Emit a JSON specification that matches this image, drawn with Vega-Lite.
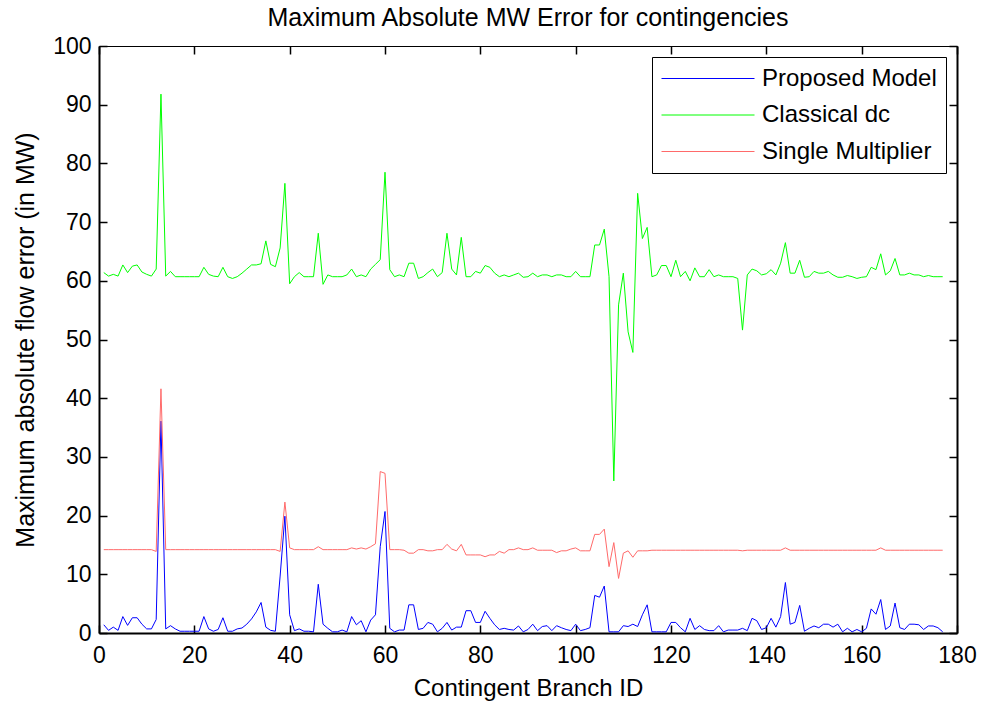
{
"$schema": "https://vega.github.io/schema/vega-lite/v6.json",
"width": 858, "height": 587,
"autosize": {"type": "none"},
"padding": {"left": 99, "top": 46, "right": 26, "bottom": 71},
"background": "white",
"title": {"text": "Maximum Absolute MW Error for contingencies", "fontSize": 25, "font": "Liberation Sans", "fontWeight": "normal", "color": "black", "offset": 4, "anchor": "middle"},
"data": {"values": [
{"x":1,"Proposed Model":1.4,"Classical dc":61.4,"Single Multiplier":14.2},
{"x":2,"Proposed Model":0.45,"Classical dc":60.8,"Single Multiplier":14.2},
{"x":3,"Proposed Model":1.0,"Classical dc":61.1,"Single Multiplier":14.2},
{"x":4,"Proposed Model":0.45,"Classical dc":60.8,"Single Multiplier":14.2},
{"x":5,"Proposed Model":2.8,"Classical dc":62.7,"Single Multiplier":14.2},
{"x":6,"Proposed Model":1.3,"Classical dc":61.4,"Single Multiplier":14.2},
{"x":7,"Proposed Model":2.6,"Classical dc":62.5,"Single Multiplier":14.2},
{"x":8,"Proposed Model":2.6,"Classical dc":62.7,"Single Multiplier":14.2},
{"x":9,"Proposed Model":1.5,"Classical dc":61.5,"Single Multiplier":14.2},
{"x":10,"Proposed Model":0.7,"Classical dc":61.1,"Single Multiplier":14.2},
{"x":11,"Proposed Model":0.7,"Classical dc":60.8,"Single Multiplier":14.2},
{"x":12,"Proposed Model":2.3,"Classical dc":62.0,"Single Multiplier":13.9},
{"x":13,"Proposed Model":36.1,"Classical dc":91.8,"Single Multiplier":41.6},
{"x":14,"Proposed Model":0.7,"Classical dc":60.8,"Single Multiplier":14.2},
{"x":15,"Proposed Model":1.25,"Classical dc":61.6,"Single Multiplier":14.2},
{"x":16,"Proposed Model":0.7,"Classical dc":60.7,"Single Multiplier":14.2},
{"x":17,"Proposed Model":0.3,"Classical dc":60.7,"Single Multiplier":14.2},
{"x":18,"Proposed Model":0.3,"Classical dc":60.7,"Single Multiplier":14.2},
{"x":19,"Proposed Model":0.3,"Classical dc":60.7,"Single Multiplier":14.2},
{"x":20,"Proposed Model":0.3,"Classical dc":60.7,"Single Multiplier":14.2},
{"x":21,"Proposed Model":0.3,"Classical dc":60.7,"Single Multiplier":14.2},
{"x":22,"Proposed Model":2.8,"Classical dc":62.3,"Single Multiplier":14.2},
{"x":23,"Proposed Model":0.7,"Classical dc":61.1,"Single Multiplier":14.2},
{"x":24,"Proposed Model":0.3,"Classical dc":60.8,"Single Multiplier":14.2},
{"x":25,"Proposed Model":0.6,"Classical dc":60.7,"Single Multiplier":14.2},
{"x":26,"Proposed Model":2.6,"Classical dc":62.3,"Single Multiplier":14.2},
{"x":27,"Proposed Model":0.3,"Classical dc":60.7,"Single Multiplier":14.2},
{"x":28,"Proposed Model":0.3,"Classical dc":60.4,"Single Multiplier":14.2},
{"x":29,"Proposed Model":0.7,"Classical dc":60.7,"Single Multiplier":14.2},
{"x":30,"Proposed Model":0.85,"Classical dc":61.3,"Single Multiplier":14.2},
{"x":31,"Proposed Model":1.5,"Classical dc":62.0,"Single Multiplier":14.2},
{"x":32,"Proposed Model":2.4,"Classical dc":62.7,"Single Multiplier":14.2},
{"x":33,"Proposed Model":3.6,"Classical dc":62.7,"Single Multiplier":14.2},
{"x":34,"Proposed Model":5.2,"Classical dc":62.9,"Single Multiplier":14.2},
{"x":35,"Proposed Model":1.0,"Classical dc":66.8,"Single Multiplier":14.2},
{"x":36,"Proposed Model":0.45,"Classical dc":62.8,"Single Multiplier":14.2},
{"x":37,"Proposed Model":0.3,"Classical dc":62.4,"Single Multiplier":14.2},
{"x":38,"Proposed Model":9.7,"Classical dc":65.6,"Single Multiplier":13.9},
{"x":39,"Proposed Model":19.9,"Classical dc":76.6,"Single Multiplier":22.3},
{"x":40,"Proposed Model":3.1,"Classical dc":59.5,"Single Multiplier":14.5},
{"x":41,"Proposed Model":0.4,"Classical dc":60.7,"Single Multiplier":14.2},
{"x":42,"Proposed Model":0.7,"Classical dc":61.4,"Single Multiplier":14.2},
{"x":43,"Proposed Model":0.3,"Classical dc":60.7,"Single Multiplier":14.2},
{"x":44,"Proposed Model":0.3,"Classical dc":60.7,"Single Multiplier":14.2},
{"x":45,"Proposed Model":0.2,"Classical dc":60.7,"Single Multiplier":14.2},
{"x":46,"Proposed Model":8.3,"Classical dc":68.1,"Single Multiplier":14.7},
{"x":47,"Proposed Model":1.5,"Classical dc":59.4,"Single Multiplier":14.2},
{"x":48,"Proposed Model":0.8,"Classical dc":61.0,"Single Multiplier":14.2},
{"x":49,"Proposed Model":0.2,"Classical dc":60.7,"Single Multiplier":14.2},
{"x":50,"Proposed Model":0.2,"Classical dc":60.7,"Single Multiplier":14.2},
{"x":51,"Proposed Model":0.5,"Classical dc":60.7,"Single Multiplier":14.2},
{"x":52,"Proposed Model":0.2,"Classical dc":61.0,"Single Multiplier":14.2},
{"x":53,"Proposed Model":2.8,"Classical dc":62.0,"Single Multiplier":14.5},
{"x":54,"Proposed Model":1.4,"Classical dc":60.7,"Single Multiplier":14.3},
{"x":55,"Proposed Model":2.1,"Classical dc":61.0,"Single Multiplier":14.5},
{"x":56,"Proposed Model":0.2,"Classical dc":60.7,"Single Multiplier":14.3},
{"x":57,"Proposed Model":2.2,"Classical dc":62.0,"Single Multiplier":14.7},
{"x":58,"Proposed Model":3.1,"Classical dc":62.8,"Single Multiplier":15.2},
{"x":59,"Proposed Model":14.7,"Classical dc":63.6,"Single Multiplier":27.5},
{"x":60,"Proposed Model":20.7,"Classical dc":78.5,"Single Multiplier":27.2},
{"x":61,"Proposed Model":0.8,"Classical dc":61.9,"Single Multiplier":14.2},
{"x":62,"Proposed Model":0.2,"Classical dc":60.7,"Single Multiplier":14.2},
{"x":63,"Proposed Model":0.5,"Classical dc":61.0,"Single Multiplier":14.2},
{"x":64,"Proposed Model":0.5,"Classical dc":60.7,"Single Multiplier":14.1},
{"x":65,"Proposed Model":4.8,"Classical dc":63.0,"Single Multiplier":13.6},
{"x":66,"Proposed Model":4.8,"Classical dc":63.0,"Single Multiplier":13.6},
{"x":67,"Proposed Model":0.6,"Classical dc":60.4,"Single Multiplier":14.2},
{"x":68,"Proposed Model":0.8,"Classical dc":60.7,"Single Multiplier":14.2},
{"x":69,"Proposed Model":1.8,"Classical dc":61.4,"Single Multiplier":14.0},
{"x":70,"Proposed Model":1.5,"Classical dc":62.0,"Single Multiplier":14.0},
{"x":71,"Proposed Model":0.2,"Classical dc":60.7,"Single Multiplier":14.2},
{"x":72,"Proposed Model":0.8,"Classical dc":61.4,"Single Multiplier":14.2},
{"x":73,"Proposed Model":1.8,"Classical dc":68.1,"Single Multiplier":15.1},
{"x":74,"Proposed Model":0.5,"Classical dc":62.0,"Single Multiplier":14.3},
{"x":75,"Proposed Model":1.0,"Classical dc":61.0,"Single Multiplier":14.0},
{"x":76,"Proposed Model":1.0,"Classical dc":67.4,"Single Multiplier":15.1},
{"x":77,"Proposed Model":3.8,"Classical dc":60.7,"Single Multiplier":13.3},
{"x":78,"Proposed Model":3.8,"Classical dc":60.7,"Single Multiplier":13.3},
{"x":79,"Proposed Model":1.8,"Classical dc":61.6,"Single Multiplier":13.3},
{"x":80,"Proposed Model":1.8,"Classical dc":61.3,"Single Multiplier":13.3},
{"x":81,"Proposed Model":3.7,"Classical dc":62.6,"Single Multiplier":13.0},
{"x":82,"Proposed Model":2.5,"Classical dc":62.3,"Single Multiplier":13.3},
{"x":83,"Proposed Model":1.4,"Classical dc":61.3,"Single Multiplier":13.3},
{"x":84,"Proposed Model":0.6,"Classical dc":60.7,"Single Multiplier":13.9},
{"x":85,"Proposed Model":0.8,"Classical dc":61.0,"Single Multiplier":13.6},
{"x":86,"Proposed Model":0.6,"Classical dc":60.7,"Single Multiplier":14.2},
{"x":87,"Proposed Model":0.5,"Classical dc":61.0,"Single Multiplier":14.2},
{"x":88,"Proposed Model":1.2,"Classical dc":61.3,"Single Multiplier":14.5},
{"x":89,"Proposed Model":0.2,"Classical dc":60.6,"Single Multiplier":14.2},
{"x":90,"Proposed Model":0.6,"Classical dc":60.7,"Single Multiplier":14.2},
{"x":91,"Proposed Model":1.5,"Classical dc":61.3,"Single Multiplier":14.5},
{"x":92,"Proposed Model":0.4,"Classical dc":60.7,"Single Multiplier":14.1},
{"x":93,"Proposed Model":1.1,"Classical dc":61.0,"Single Multiplier":14.1},
{"x":94,"Proposed Model":1.25,"Classical dc":61.0,"Single Multiplier":14.1},
{"x":95,"Proposed Model":0.4,"Classical dc":60.7,"Single Multiplier":14.1},
{"x":96,"Proposed Model":1.25,"Classical dc":61.0,"Single Multiplier":13.7},
{"x":97,"Proposed Model":0.9,"Classical dc":61.0,"Single Multiplier":14.0},
{"x":98,"Proposed Model":0.6,"Classical dc":60.7,"Single Multiplier":14.0},
{"x":99,"Proposed Model":0.4,"Classical dc":60.7,"Single Multiplier":14.3},
{"x":100,"Proposed Model":1.5,"Classical dc":61.6,"Single Multiplier":14.5},
{"x":101,"Proposed Model":0.4,"Classical dc":60.7,"Single Multiplier":14.0},
{"x":102,"Proposed Model":0.6,"Classical dc":60.7,"Single Multiplier":14.0},
{"x":103,"Proposed Model":0.9,"Classical dc":60.7,"Single Multiplier":14.0},
{"x":104,"Proposed Model":6.4,"Classical dc":66.1,"Single Multiplier":16.8},
{"x":105,"Proposed Model":6.1,"Classical dc":66.1,"Single Multiplier":16.8},
{"x":106,"Proposed Model":8.0,"Classical dc":68.8,"Single Multiplier":17.7},
{"x":107,"Proposed Model":0.2,"Classical dc":60.7,"Single Multiplier":11.3},
{"x":108,"Proposed Model":0.2,"Classical dc":25.9,"Single Multiplier":15.4},
{"x":109,"Proposed Model":0.2,"Classical dc":55.9,"Single Multiplier":9.3},
{"x":110,"Proposed Model":1.25,"Classical dc":61.3,"Single Multiplier":13.6},
{"x":111,"Proposed Model":1.1,"Classical dc":51.3,"Single Multiplier":14.0},
{"x":112,"Proposed Model":1.5,"Classical dc":47.8,"Single Multiplier":12.9},
{"x":113,"Proposed Model":1.1,"Classical dc":74.9,"Single Multiplier":14.0},
{"x":114,"Proposed Model":3.1,"Classical dc":67.2,"Single Multiplier":14.0},
{"x":115,"Proposed Model":4.8,"Classical dc":69.1,"Single Multiplier":14.0},
{"x":116,"Proposed Model":0.2,"Classical dc":60.7,"Single Multiplier":14.1},
{"x":117,"Proposed Model":0.2,"Classical dc":61.0,"Single Multiplier":14.1},
{"x":118,"Proposed Model":0.2,"Classical dc":62.6,"Single Multiplier":14.1},
{"x":119,"Proposed Model":0.2,"Classical dc":62.6,"Single Multiplier":14.1},
{"x":120,"Proposed Model":1.8,"Classical dc":60.7,"Single Multiplier":14.1},
{"x":121,"Proposed Model":1.8,"Classical dc":63.5,"Single Multiplier":14.1},
{"x":122,"Proposed Model":0.9,"Classical dc":60.7,"Single Multiplier":14.1},
{"x":123,"Proposed Model":0.2,"Classical dc":61.6,"Single Multiplier":14.1},
{"x":124,"Proposed Model":2.5,"Classical dc":60.0,"Single Multiplier":14.1},
{"x":125,"Proposed Model":0.6,"Classical dc":62.2,"Single Multiplier":14.1},
{"x":126,"Proposed Model":1.25,"Classical dc":60.7,"Single Multiplier":14.1},
{"x":127,"Proposed Model":0.6,"Classical dc":60.7,"Single Multiplier":14.1},
{"x":128,"Proposed Model":0.4,"Classical dc":61.9,"Single Multiplier":14.1},
{"x":129,"Proposed Model":0.4,"Classical dc":60.7,"Single Multiplier":14.1},
{"x":130,"Proposed Model":1.25,"Classical dc":61.0,"Single Multiplier":14.1},
{"x":131,"Proposed Model":0.2,"Classical dc":60.7,"Single Multiplier":14.1},
{"x":132,"Proposed Model":0.5,"Classical dc":60.7,"Single Multiplier":14.1},
{"x":133,"Proposed Model":0.5,"Classical dc":60.7,"Single Multiplier":14.1},
{"x":134,"Proposed Model":0.5,"Classical dc":60.4,"Single Multiplier":14.1},
{"x":135,"Proposed Model":0.8,"Classical dc":51.6,"Single Multiplier":14.0},
{"x":136,"Proposed Model":0.4,"Classical dc":61.0,"Single Multiplier":14.1},
{"x":137,"Proposed Model":2.5,"Classical dc":62.0,"Single Multiplier":14.1},
{"x":138,"Proposed Model":2.1,"Classical dc":61.7,"Single Multiplier":14.1},
{"x":139,"Proposed Model":0.6,"Classical dc":61.0,"Single Multiplier":14.1},
{"x":140,"Proposed Model":0.9,"Classical dc":61.2,"Single Multiplier":14.1},
{"x":141,"Proposed Model":2.5,"Classical dc":61.9,"Single Multiplier":14.1},
{"x":142,"Proposed Model":1.0,"Classical dc":61.0,"Single Multiplier":14.1},
{"x":143,"Proposed Model":2.8,"Classical dc":63.0,"Single Multiplier":14.1},
{"x":144,"Proposed Model":8.6,"Classical dc":66.5,"Single Multiplier":14.5},
{"x":145,"Proposed Model":1.5,"Classical dc":61.3,"Single Multiplier":14.1},
{"x":146,"Proposed Model":1.8,"Classical dc":61.3,"Single Multiplier":14.1},
{"x":147,"Proposed Model":4.7,"Classical dc":63.5,"Single Multiplier":14.1},
{"x":148,"Proposed Model":0.3,"Classical dc":60.6,"Single Multiplier":14.1},
{"x":149,"Proposed Model":0.8,"Classical dc":60.7,"Single Multiplier":14.1},
{"x":150,"Proposed Model":1.2,"Classical dc":61.6,"Single Multiplier":14.1},
{"x":151,"Proposed Model":0.9,"Classical dc":61.3,"Single Multiplier":14.1},
{"x":152,"Proposed Model":1.5,"Classical dc":61.3,"Single Multiplier":14.1},
{"x":153,"Proposed Model":1.5,"Classical dc":61.6,"Single Multiplier":14.1},
{"x":154,"Proposed Model":1.0,"Classical dc":61.0,"Single Multiplier":14.1},
{"x":155,"Proposed Model":1.5,"Classical dc":60.6,"Single Multiplier":14.1},
{"x":156,"Proposed Model":0.2,"Classical dc":60.6,"Single Multiplier":14.1},
{"x":157,"Proposed Model":0.8,"Classical dc":60.9,"Single Multiplier":14.1},
{"x":158,"Proposed Model":0.2,"Classical dc":60.7,"Single Multiplier":14.1},
{"x":159,"Proposed Model":0.6,"Classical dc":60.4,"Single Multiplier":14.1},
{"x":160,"Proposed Model":0.2,"Classical dc":60.6,"Single Multiplier":14.1},
{"x":161,"Proposed Model":0.8,"Classical dc":60.7,"Single Multiplier":14.1},
{"x":162,"Proposed Model":4.1,"Classical dc":62.3,"Single Multiplier":14.1},
{"x":163,"Proposed Model":3.2,"Classical dc":61.9,"Single Multiplier":14.1},
{"x":164,"Proposed Model":5.7,"Classical dc":64.6,"Single Multiplier":14.5},
{"x":165,"Proposed Model":0.6,"Classical dc":61.0,"Single Multiplier":14.1},
{"x":166,"Proposed Model":1.2,"Classical dc":61.7,"Single Multiplier":14.1},
{"x":167,"Proposed Model":5.1,"Classical dc":63.8,"Single Multiplier":14.1},
{"x":168,"Proposed Model":0.9,"Classical dc":61.0,"Single Multiplier":14.1},
{"x":169,"Proposed Model":0.6,"Classical dc":61.0,"Single Multiplier":14.1},
{"x":170,"Proposed Model":1.5,"Classical dc":61.3,"Single Multiplier":14.1},
{"x":171,"Proposed Model":1.5,"Classical dc":61.0,"Single Multiplier":14.1},
{"x":172,"Proposed Model":1.4,"Classical dc":61.0,"Single Multiplier":14.1},
{"x":173,"Proposed Model":0.6,"Classical dc":60.7,"Single Multiplier":14.1},
{"x":174,"Proposed Model":1.2,"Classical dc":60.9,"Single Multiplier":14.1},
{"x":175,"Proposed Model":1.2,"Classical dc":60.7,"Single Multiplier":14.1},
{"x":176,"Proposed Model":0.9,"Classical dc":60.7,"Single Multiplier":14.1},
{"x":177,"Proposed Model":0.2,"Classical dc":60.7,"Single Multiplier":14.1}
]},
"layer": [
{
"transform": [{"fold": ["Proposed Model", "Classical dc", "Single Multiplier"], "as": ["series", "value"]}],
"mark": {"type": "line", "strokeWidth": 1},
"encoding": {
"x": {"field": "x", "type": "quantitative", "scale": {"domain": [0, 180], "nice": false}, "axis": {"orient": "bottom", "values": [0,20,40,60,80,100,120,140,160,180], "title": "Contingent Branch ID", "labelPadding": 19, "titlePadding": 9}},
"y": {"field": "value", "type": "quantitative", "scale": {"domain": [0, 100], "nice": false}, "axis": {"orient": "left", "values": [0,10,20,30,40,50,60,70,80,90,100], "title": "Maximum absolute flow error (in MW)", "labelPadding": 16, "titlePadding": 14, "titleFontSize": 25}},
"color": {"field": "series", "type": "nominal", "scale": {"domain": ["Proposed Model", "Classical dc", "Single Multiplier"], "range": ["#0000ff", "#00ff00", "#ff6a6a"]}, "legend": {"title": null}}
}
},
{
"mark": {"type": "line", "opacity": 0},
"encoding": {
"x": {"field": "x", "type": "quantitative", "scale": {"domain": [0, 180], "nice": false}, "axis": {"orient": "top", "values": [0,20,40,60,80,100,120,140,160,180], "labels": false, "title": null, "domainWidth": 1}},
"y": {"field": "Classical dc", "type": "quantitative", "scale": {"domain": [0, 100], "nice": false}, "axis": {"orient": "right", "values": [0,10,20,30,40,50,60,70,80,90,100], "labels": false, "title": null}}
}
}
],
"resolve": {"axis": {"x": "independent", "y": "independent"}},
"config": {
"view": {"stroke": null},
"axis": {"domainColor": "black", "domainWidth": 2, "tickColor": "black", "tickSize": -8, "tickWidth": 1.5, "grid": false, "labelFlush": false, "labelFont": "Liberation Sans", "labelFontSize": 23, "labelColor": "black", "labelPadding": 8, "titleFont": "Liberation Sans", "titleFontSize": 24, "titleFontWeight": "normal", "titleColor": "black"},
"legend": {"orient": "top-right", "offset": 11, "strokeColor": "black", "strokeWidth": 1, "fillColor": "white", "padding": 9, "labelFont": "Liberation Sans", "labelFontSize": 24, "labelColor": "black", "labelLimit": 400, "symbolType": "M-1,0H6.75", "symbolSize": 576, "symbolStrokeWidth": 1, "labelOffset": 76, "rowPadding": 11.5}
}
}
